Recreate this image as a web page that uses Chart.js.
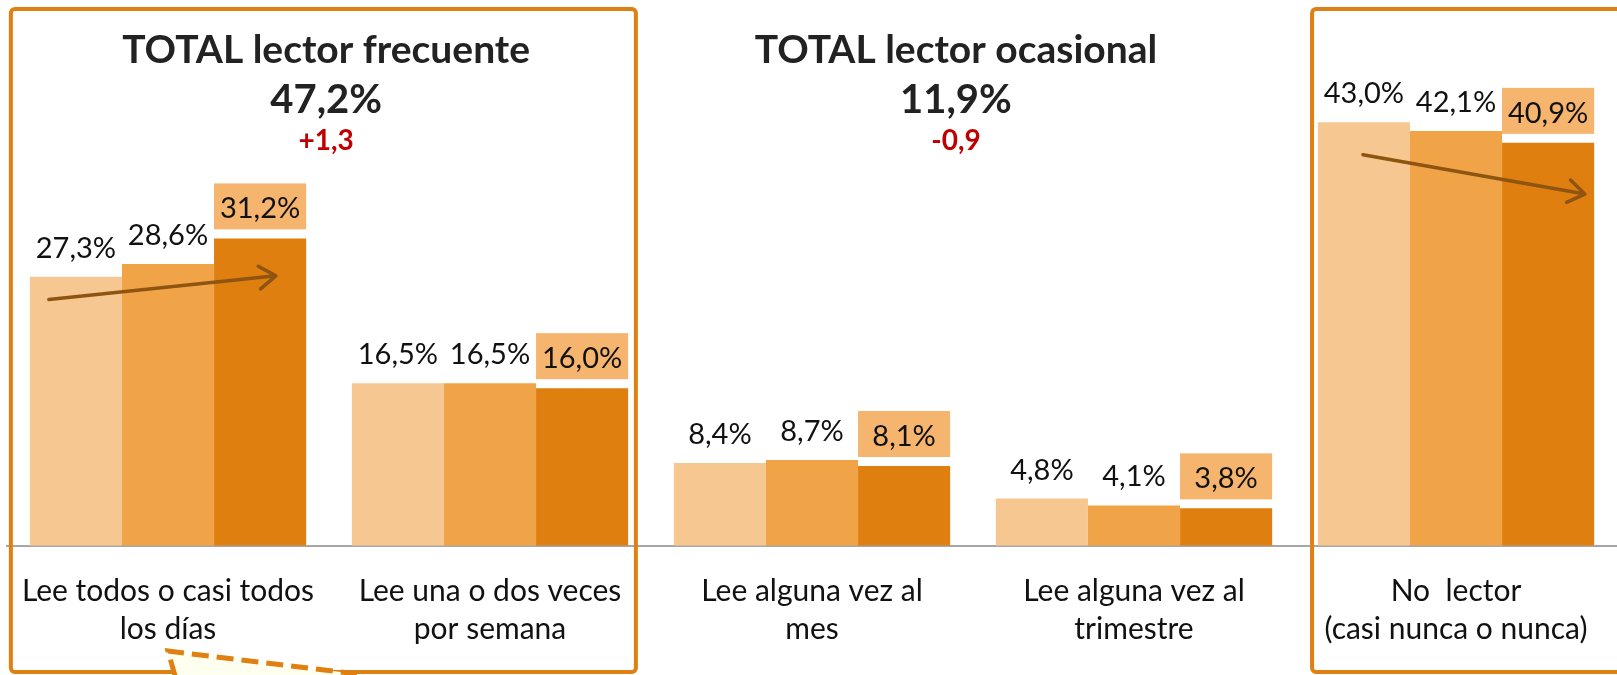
<!DOCTYPE html>
<html>
<head>
<meta charset="utf-8">
<script src="https://cdn.jsdelivr.net/npm/chart.js@4.4.1/dist/chart.umd.min.js"></script>
<style>
    html, body { margin: 0; padding: 0; background: #fff; overflow: hidden; }
    #wrap { position: relative; width: 1617px; height: 675px; }
</style>
</head>
<body>
<div id="wrap"><canvas id="lectura-chart"></canvas></div>
<script>
// categorias y series (% de poblacion)
const categories = [
    ['Lee todos o casi todos', 'los días'],
    ['Lee una o dos veces', 'por semana'],
    ['Lee alguna vez al', 'mes'],
    ['Lee alguna vez al', 'trimestre'],
    ['No  lector', '(casi nunca o nunca)']
];
const seriesNames = ['Periodo 1', 'Periodo 2', 'Periodo 3'];
const serie1 = [27.3, 16.5, 8.4, 4.8, 43.0];
const serie2 = [28.6, 16.5, 8.7, 4.1, 42.1];
const serie3 = [31.2, 16.0, 8.1, 3.8, 40.9];

const totalTitles = ['TOTAL lector frecuente', 'TOTAL lector ocasional'];
const totalValues = ['47,2%', '11,9%'];
const totalChanges = ['+1,3', '-0,9'];

const ORANGE = '#E07F12';
const FONT = 'Lato, "Open Sans", sans-serif';

const fmt = (v) => v.toFixed(1).replace('.', ',') + '%';

function arrow(ctx, x1, y1, x2, y2) {
    const a = Math.atan2(y2 - y1, x2 - x1);
    const len = 20, spread = 0.6;
    ctx.beginPath();
    ctx.moveTo(x1, y1);
    ctx.lineTo(x2, y2);
    ctx.moveTo(x2 - len * Math.cos(a - spread), y2 - len * Math.sin(a - spread));
    ctx.lineTo(x2, y2);
    ctx.lineTo(x2 - len * Math.cos(a + spread), y2 - len * Math.sin(a + spread));
    ctx.stroke();
}

const decorations = {
    id: 'decorations',
    afterDatasetsDraw(chart) {
        const { ctx, scales: { x, y } } = chart;

        // etiquetas de valor
        chart.data.datasets.forEach((ds, di) => {
            chart.getDatasetMeta(di).data.forEach((bar, i) => {
                const text = fmt(ds.data[i]);
                ctx.save();
                ctx.font = '29px ' + FONT;
                ctx.textAlign = 'center';
                ctx.textBaseline = 'alphabetic';
                if (di === 2) {
                    const bottom = bar.y - 9;
                    ctx.fillStyle = '#F5B56E';
                    ctx.fillRect(bar.x - bar.width / 2, bottom - 46, bar.width, 46);
                    ctx.fillStyle = '#111';
                    ctx.fillText(text, bar.x, bottom - 11);
                } else {
                    ctx.fillStyle = '#111';
                    ctx.fillText(text, bar.x, bar.y - 19);
                }
                ctx.restore();
            });
        });

        // flechas de tendencia
        ctx.save();
        ctx.strokeStyle = '#8E5410';
        ctx.lineWidth = 3.5;
        ctx.lineCap = 'round';
        ctx.lineJoin = 'round';
        arrow(ctx, x.getPixelForValue(-0.37), y.getPixelForValue(25.0),
                   x.getPixelForValue(0.335), y.getPixelForValue(27.4));
        arrow(ctx, x.getPixelForValue(3.711), y.getPixelForValue(39.7),
                   x.getPixelForValue(4.40), y.getPixelForValue(35.7));
        ctx.restore();

        // titulos de totales
        const titleAt = [0.491, 2.447];
        titleAt.forEach((pos, k) => {
            const cx = x.getPixelForValue(pos);
            ctx.save();
            ctx.textAlign = 'center';
            ctx.fillStyle = '#222';
            ctx.font = 'bold 39px ' + FONT;
            ctx.fillText(totalTitles[k], cx, 63);
            ctx.font = 'bold 40px ' + FONT;
            ctx.fillText(totalValues[k], cx, 113);
            ctx.fillStyle = '#C00000';
            ctx.font = 'bold 28px ' + FONT;
            ctx.fillText(totalChanges[k], cx, 150);
            ctx.restore();
        });
    },
    afterDraw(chart) {
        const { ctx, scales: { x } } = chart;
        ctx.save();
        ctx.strokeStyle = ORANGE;
        ctx.lineWidth = 4;
        // recuadros
        const l1 = x.getPixelForValue(-0.488), r1 = x.getPixelForValue(1.453);
        ctx.beginPath();
        ctx.roundRect(l1, 9, r1 - l1, 663, 4);
        ctx.stroke();
        const l2 = x.getPixelForValue(3.553);
        ctx.beginPath();
        ctx.roundRect(l2, 9, 1700 - l2, 663, 4);
        ctx.stroke();

        // llamada discontinua
        const tipX = x.getPixelForValue(0.0), baseL = x.getPixelForValue(0.022), baseR = x.getPixelForValue(0.587);
        ctx.beginPath();
        ctx.moveTo(baseL, 676);
        ctx.lineTo(tipX, 651);
        ctx.lineTo(baseR, 674);
        ctx.lineTo(baseR, 676);
        ctx.closePath();
        ctx.fillStyle = '#FFFFF0';
        ctx.fill();
        ctx.lineWidth = 5;
        ctx.setLineDash([17, 8]);
        ctx.beginPath();
        ctx.moveTo(baseL, 676);
        ctx.lineTo(tipX, 651);
        ctx.lineTo(baseR, 674);
        ctx.stroke();
        ctx.restore();
    }
};

new Chart(document.getElementById('lectura-chart').getContext('2d'), {
    type: 'bar',
    data: {
        labels: categories,
        datasets: [
            { label: seriesNames[0], data: serie1, backgroundColor: '#F6C790' },
            { label: seriesNames[1], data: serie2, backgroundColor: '#F1A447' },
            { label: seriesNames[2], data: serie3, backgroundColor: '#DF7F10' },
        ]
    },
    options: {
        responsive: true,
        maintainAspectRatio: false,
        animation: false,
        datasets: {
            bar: { barPercentage: 1, categoryPercentage: 0.858, borderWidth: 0 }
        },
        layout: { padding: { left: 7, right: 0, top: 0, bottom: 27 } },
        plugins: {
            legend: { display: false },
            title: { display: false },
            tooltip: { enabled: false }
        },
        scales: {
            x: {
                // la distancia de las etiquetas va en tickLength (no en padding) para no desplazar el area
                grid: { display: false, drawTicks: true, tickLength: 26 },
                border: { display: true, color: '#a6a6a6', width: 2 },
                ticks: {
                    color: '#111',
                    padding: 0,
                    maxRotation: 0,
                    autoSkip: false,
                    font: { family: FONT, size: 30, lineHeight: 1.27 }
                }
            },
            y: { display: false, min: 0, max: 55.4 }
        }
    },
    plugins: [decorations]
});
</script>
</body>
</html>
